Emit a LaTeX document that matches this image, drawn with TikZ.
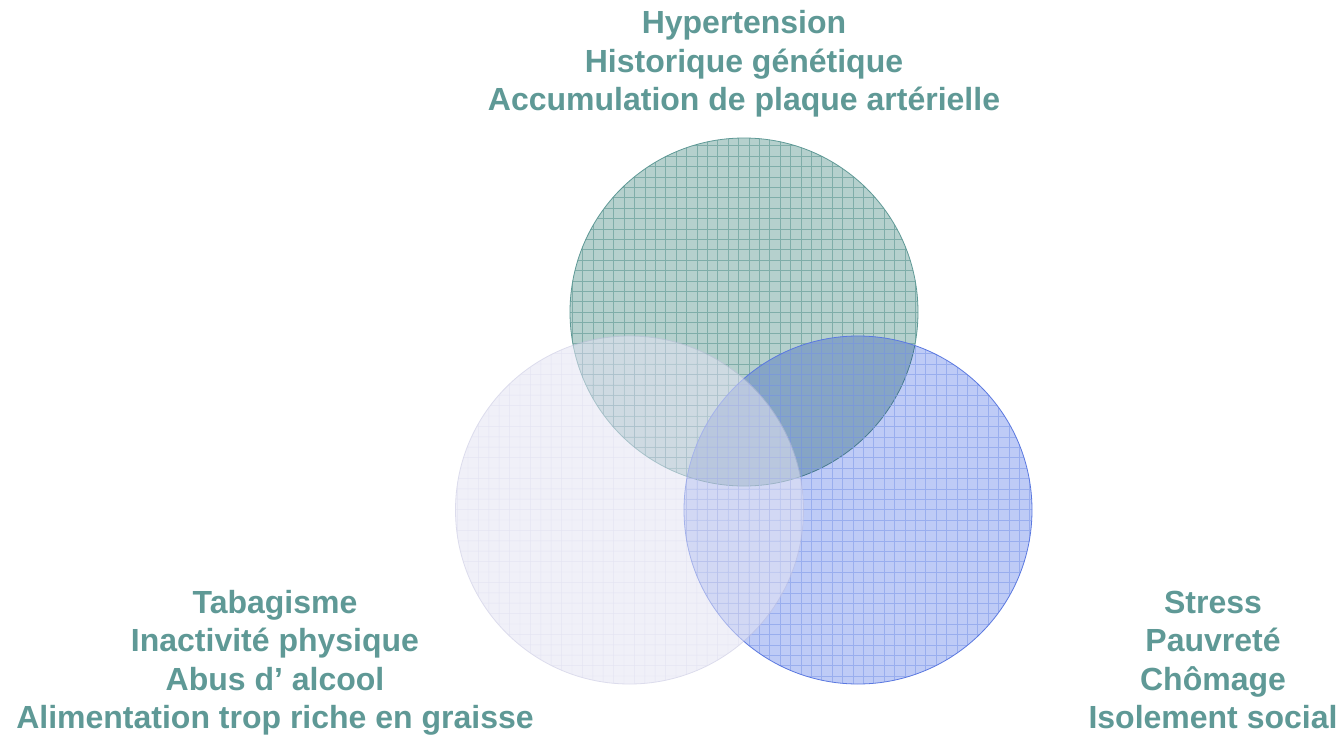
\documentclass[tikz,border=0pt]{standalone}
\usepackage{fontspec}
\setmainfont{Liberation Sans}
\usetikzlibrary{backgrounds}
\definecolor{txtteal}{HTML}{5F9996}
\definecolor{tealfill}{HTML}{B5D0CD}
\definecolor{tealline}{HTML}{7FADA9}
\definecolor{tealedge}{HTML}{5F9996}
\definecolor{bluefill}{HTML}{BECBF6}
\definecolor{blueline}{HTML}{8AA2EC}
\definecolor{blueedge}{HTML}{5A78E0}
\definecolor{lavfill}{HTML}{E4E4F4}
\definecolor{lavline}{HTML}{CFCFE8}
\definecolor{lavedge}{HTML}{C0C0DE}
\tikzset{
  lbl/.style={align=center, text=txtteal, font=\fontsize{32}{38.5}\selectfont\bfseries, inner sep=0pt},
  ring/.style={circle, minimum size=348pt, inner sep=0pt},
  gridln/.style={line width=0.42pt, step=10.4pt}
}
\begin{document}
\begin{tikzpicture}[x=1pt,y=-1pt]
\useasboundingbox (0,0) rectangle (1344,736);
\fill[white] (0,0) rectangle (1344,736);
\node[ring] (top) at (744,312) {};
\node[ring] (left) at (629.5,510) {};
\node[ring] (right) at (858,510) {};
% top circle
\begin{scope}
  \clip (744,312) circle[radius=174pt];
  \fill[tealfill] (744,312) circle[radius=174pt];
  \draw[tealline, gridln] (560,130) grid (930,500);
\end{scope}
\draw[tealedge, line width=0.8pt] (top) circle[radius=174pt];
% right circle
\begin{scope}
  \clip (858,510) circle[radius=174pt];
  \begin{scope}[blend mode=multiply]
    \fill[bluefill] (858,510) circle[radius=174pt];
  \end{scope}
  \draw[blueline, gridln, opacity=0.7] (670,326) grid (1040,696);
\end{scope}
\draw[blueedge, line width=0.8pt] (right) circle[radius=174pt];
% left circle
\begin{scope}[opacity=0.55, transparency group]
\begin{scope}
  \clip (629.5,510) circle[radius=174pt];
  \fill[lavfill] (629.5,510) circle[radius=174pt];
  \draw[lavline, gridln] (440,326) grid (810,696);
\end{scope}
\draw[lavedge, line width=0.8pt] (629.5,510) circle[radius=174pt];
\end{scope}
% labels
\node[lbl] (ttop) at (744,64) {Hypertension\\Historique génétique\\Accumulation de plaque artérielle};
\node[lbl] (tleft) at (275,663) {Tabagisme\\Inactivité physique\\Abus d’ alcool\\Alimentation trop riche en graisse};
\node[lbl] (tright) at (1213,660) {Stress\\Pauvreté\\Chômage\\Isolement social};
\end{tikzpicture}
\end{document}
